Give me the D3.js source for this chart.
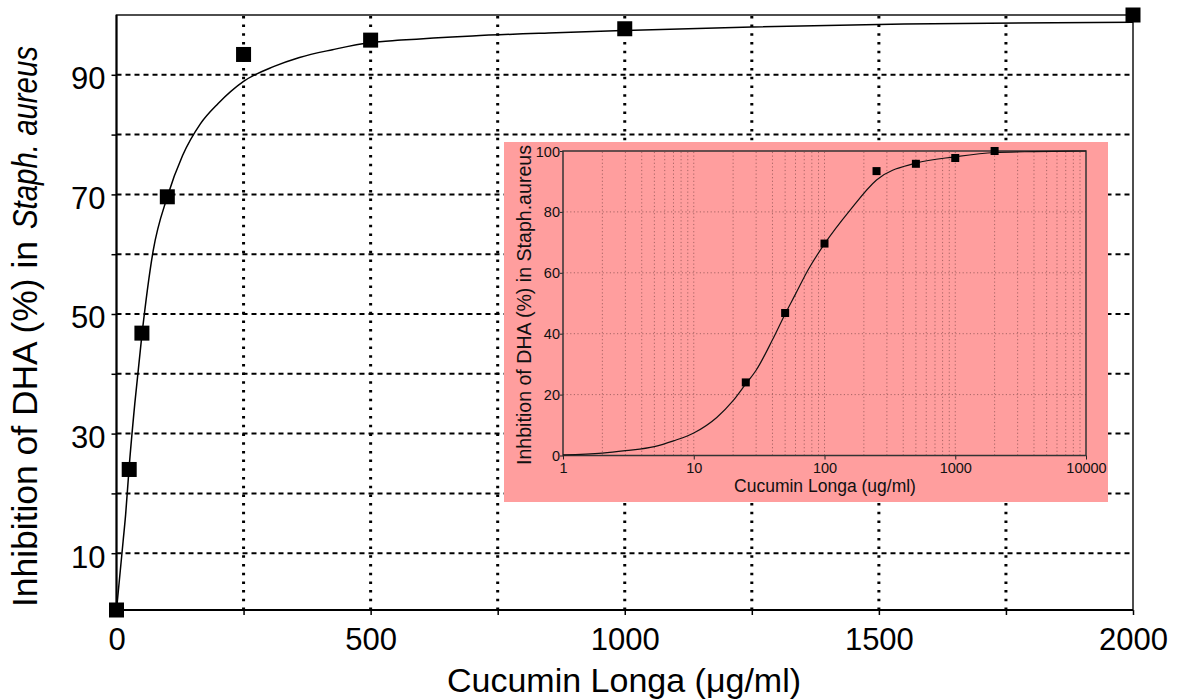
<!DOCTYPE html>
<html><head><meta charset="utf-8">
<script src="https://cdn.jsdelivr.net/npm/d3@7"></script>
<style>
html,body{margin:0;padding:0;background:#fff;}
svg{display:block;font-family:"Liberation Sans",Arial,sans-serif;}
</style></head>
<body><svg id="c" width="1182" height="699"></svg>
<script>
// ---- data ----
const concentration = [0, 25, 50, 100, 250, 500, 1000, 2000];
const inhibition = [0.5, 24, 46.8, 69.6, 93.4, 95.8, 97.7, 100];

// fitted curve, main (linear) panel
const mainCurveX = [0, 13, 18, 25, 36, 50, 72, 100, 130, 165, 200, 250, 310, 360, 425, 500, 560, 700, 850, 1000, 1250, 1550, 2000];
const mainCurveY = [0.5, 12, 16.5, 24.5, 35, 46.5, 60.5, 69.6, 76.5, 81.8, 85.2, 88.9, 91.4, 92.9, 94.2, 95.4, 95.8, 96.5, 97, 97.4, 98, 98.5, 98.8];

// fitted curve, inset (log) panel
const insetCurveX = [1, 2, 3, 5, 7, 10, 15, 20, 25, 30, 40, 50, 60, 75, 100, 157, 250, 500, 1000, 2000, 4000, 10000];
const insetCurveY = [0.2, 0.8, 1.6, 2.9, 4.8, 7.4, 12.5, 18, 23.5, 28, 38, 46.5, 53, 61, 69.5, 80.6, 90.5, 96, 98.1, 99.5, 99.8, 100];

const mainXTicks = [0, 500, 1000, 1500, 2000];
const mainXGrid = [250, 500, 750, 1000, 1250, 1500, 1750];
const mainYTicks = [10, 30, 50, 70, 90];
const mainYGrid = [10, 20, 30, 40, 50, 60, 70, 80, 90];
const insetXTicks = [1, 10, 100, 1000, 10000];
const insetYTicks = [0, 20, 40, 60, 80, 100];

const svg = d3.select("#c");

// ---- main panel ----
const L = 116.5, R = 1133, T = 15, B = 610;
const x = d3.scaleLinear().domain([0, 2000]).range([L, R]);
const y = d3.scaleLinear().domain([0.5, 100]).range([B, T]);

const g = svg.append("g");
g.selectAll("line.hg").data(mainYGrid).join("line")
  .attr("x1", L).attr("x2", R).attr("y1", d => y(d)).attr("y2", d => y(d))
  .attr("stroke", "#000").attr("stroke-width", 2).attr("stroke-dasharray", "5,4");
g.selectAll("line.vg").data(mainXGrid).join("line")
  .attr("x1", d => x(d)).attr("x2", d => x(d)).attr("y1", B).attr("y2", T)
  .attr("stroke", "#000").attr("stroke-width", 3).attr("stroke-dasharray", "2.5,6.2");

const yAxis = d3.axisLeft(y).tickValues(mainYGrid).tickSize(5)
  .tickFormat(d => mainYTicks.includes(d) ? d : "");
const ya = g.append("g").attr("transform", `translate(${L},0)`).call(yAxis);
ya.select(".domain").remove();
ya.selectAll("line").attr("stroke", "#000").attr("stroke-width", 1.5);
ya.selectAll("text").attr("font-size", 31).attr("fill", "#000").attr("x", -11).attr("dy", 14);

const xAxis = d3.axisBottom(x).tickValues(d3.range(0, 2001, 250)).tickSize(5)
  .tickFormat(d => mainXTicks.includes(d) ? d : "");
const xa = g.append("g").attr("transform", `translate(0,${B})`).call(xAxis);
xa.select(".domain").remove();
xa.selectAll("line").attr("stroke", "#000").attr("stroke-width", 1.5);
xa.selectAll("text").attr("font-size", 31).attr("fill", "#000").attr("y", 40).attr("dy", 0);

g.append("rect").attr("x", L).attr("y", T).attr("width", R - L).attr("height", B - T)
  .attr("fill", "none").attr("stroke", "#222").attr("stroke-width", 1.6);
g.append("line").attr("x1", L).attr("x2", L).attr("y1", T).attr("y2", B).attr("stroke", "#000").attr("stroke-width", 2);
g.append("line").attr("x1", L).attr("x2", R).attr("y1", B).attr("y2", B).attr("stroke", "#000").attr("stroke-width", 2);

// titles
svg.append("text").attr("transform", "translate(37,607) rotate(-90)")
  .attr("font-size", 35).attr("fill", "#000")
  .attr("textLength", 366).attr("lengthAdjust", "spacingAndGlyphs").text("Inhibition of DHA (%) in");
svg.append("text").attr("transform", "translate(37,229) rotate(-90)")
  .attr("font-size", 35).attr("font-style", "italic").attr("fill", "#000")
  .attr("textLength", 183).attr("lengthAdjust", "spacingAndGlyphs").text("Staph. aureus");
svg.append("text").attr("x", 624).attr("y", 692).attr("text-anchor", "middle")
  .attr("font-size", 34).attr("fill", "#000").text("Cucumin Longa (\u03bcg/ml)");

// main curve + points
const mainLine = d3.line().x(d => x(d[0])).y(d => y(d[1])).curve(d3.curveMonotoneX);
g.append("path").datum(d3.zip(mainCurveX, mainCurveY)).attr("d", mainLine)
  .attr("fill", "none").attr("stroke", "#000").attr("stroke-width", 1.5);
const S = 15;
g.selectAll("rect.pt").data(d3.zip(concentration, inhibition)).join("rect")
  .attr("x", d => x(d[0]) - S / 2).attr("y", d => y(d[1]) - S / 2)
  .attr("width", S).attr("height", S).attr("fill", "#000");

// ---- inset ----
const ig = svg.append("g");
ig.append("rect").attr("x", 504).attr("y", 142).attr("width", 604).attr("height", 360).attr("fill", "#ff9e9e");
const iL = 563, iR = 1086, iT = 151, iB = 455.5;
const ix = d3.scaleLog().domain([1, 10000]).range([iL, iR]);
const iy = d3.scaleLinear().domain([0, 100]).range([iB, iT]);

const minorX = [];
for (let dec = 1; dec < 10000; dec *= 10) for (let k = 2; k <= 9; k++) minorX.push(dec * k);
const gridX = minorX.concat(insetXTicks.slice(1, -1));
ig.selectAll("line.ivg").data(gridX).join("line")
  .attr("x1", d => ix(d)).attr("x2", d => ix(d)).attr("y1", iB).attr("y2", iT)
  .attr("stroke", "#a86464").attr("stroke-width", 1).attr("stroke-dasharray", "1.2,2.4");
ig.selectAll("line.ihg").data(insetYTicks.slice(1, -1)).join("line")
  .attr("x1", iL).attr("x2", iR).attr("y1", d => iy(d)).attr("y2", d => iy(d))
  .attr("stroke", "#a86464").attr("stroke-width", 1).attr("stroke-dasharray", "1.2,2.4");

const iya = ig.append("g").attr("transform", `translate(${iL},0)`)
  .call(d3.axisLeft(iy).tickValues(insetYTicks).tickSize(3));
iya.select(".domain").remove();
iya.selectAll("line").attr("stroke", "#222");
iya.selectAll("text").attr("font-size", 14.5).attr("fill", "#111").attr("x", -3).attr("dy", "0.35em");

const ixa = ig.append("g").attr("transform", `translate(0,${iB})`)
  .call(d3.axisBottom(ix).tickValues(insetXTicks).tickSize(4).tickFormat(d3.format("d")));
ixa.select(".domain").remove();
ixa.selectAll("line").attr("stroke", "#222");
ixa.selectAll("text").attr("font-size", 14.5).attr("fill", "#111").attr("y", 7).attr("dy", "0.71em");

ig.append("rect").attr("x", iL).attr("y", iT).attr("width", iR - iL).attr("height", iB - iT)
  .attr("fill", "none").attr("stroke", "#333").attr("stroke-width", 1.5);

const insetLine = d3.line().x(d => ix(d[0])).y(d => iy(d[1])).curve(d3.curveMonotoneX);
ig.append("path").datum(d3.zip(insetCurveX, insetCurveY)).attr("d", insetLine)
  .attr("fill", "none").attr("stroke", "#111").attr("stroke-width", 1.2);
const s2 = 8;
ig.selectAll("rect.ipt").data(d3.zip(concentration, inhibition).filter(d => d[0] > 0)).join("rect")
  .attr("x", d => ix(d[0]) - s2 / 2).attr("y", d => iy(d[1]) - s2 / 2)
  .attr("width", s2).attr("height", s2).attr("fill", "#000");

ig.append("text").attr("transform", "translate(531,305) rotate(-90)").attr("text-anchor", "middle")
  .attr("font-size", 19.5).attr("fill", "#111").attr("textLength", 320).attr("lengthAdjust", "spacingAndGlyphs")
  .text("Inhbition of DHA (%) in Staph.aureus");
ig.append("text").attr("x", 825).attr("y", 492).attr("text-anchor", "middle")
  .attr("font-size", 17.5).attr("fill", "#111").text("Cucumin Longa (ug/ml)");
</script></body></html>
